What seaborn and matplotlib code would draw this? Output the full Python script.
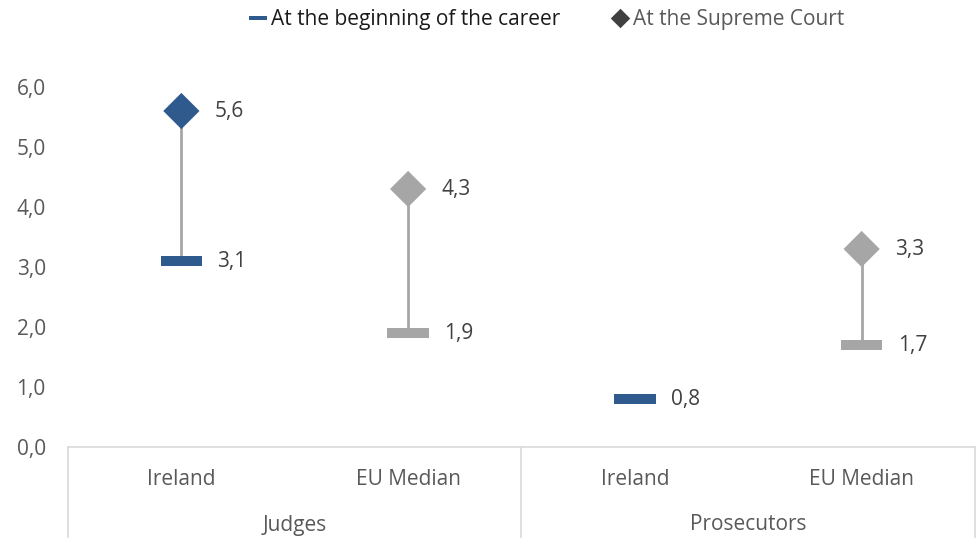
import matplotlib
matplotlib.use("Agg")
import matplotlib.pyplot as plt
import matplotlib.transforms as mtransforms
from matplotlib.lines import Line2D
import seaborn as sns
import pandas as pd

# ---- data ----
groups = ["Judges", "Judges", "Prosecutors", "Prosecutors"]
categories = ["Ireland", "EU Median", "Ireland", "EU Median"]
begin_career = [3.1, 1.9, 0.8, 1.7]
supreme_court = [5.6, 4.3, None, 3.3]
y_ticks = [0, 1, 2, 3, 4, 5, 6]
legend_labels = ["At the beginning of the career", "At the Supreme Court"]

BLUE = "#2F5A8E"
GREY = "#A6A6A6"
TXT = "#595959"
FS = 15

sns.set_theme(style="white")
plt.rcParams["font.family"] = ["Open Sans", "DejaVu Sans"]

df = pd.DataFrame({
    "pos": range(len(categories)),
    "group": groups,
    "cat": categories,
    "begin": begin_career,
    "supreme": supreme_court,
})
df["kind"] = ["Ireland" if c == "Ireland" else "EU" for c in categories]
palette = {"Ireland": BLUE, "EU": GREY}

fig = plt.figure(figsize=(9.79, 5.38), dpi=100)
W, H = 979, 538
ax = fig.add_axes([68 / W, (H - 447) / H, (975 - 68) / W, 360 / H])

dash = [(-1, -0.22), (1, -0.22), (1, 0.22), (-1, 0.22), (-1, -0.22)]
diamond = [(0, 1), (1, 0), (0, -1), (-1, 0), (0, 1)]

# connecting lines
sub = df.dropna(subset=["supreme"])
ax.vlines(sub["pos"], sub["begin"], sub["supreme"], color=GREY, lw=2, zorder=1)

sns.scatterplot(data=df, x="pos", y="begin", hue="kind", palette=palette,
                marker=dash, s=900, linewidth=0, legend=False, ax=ax, zorder=3,
                clip_on=False)
sns.scatterplot(data=sub, x="pos", y="supreme", hue="kind", palette=palette,
                marker=diamond, s=680, linewidth=0, legend=False, ax=ax, zorder=3,
                clip_on=False)

def fmt(v):
    return f"{v:.1f}".replace(".", ",")

for _, r in df.iterrows():
    ax.annotate(fmt(r["begin"]), (r["pos"], r["begin"]), xytext=(26, 0),
                textcoords="offset points", va="center", ha="left",
                fontsize=FS, color="#404040")
    if pd.notna(r["supreme"]):
        ax.annotate(fmt(r["supreme"]), (r["pos"], r["supreme"]), xytext=(24, 0),
                    textcoords="offset points", va="center", ha="left",
                    fontsize=FS, color="#404040")

ax.set_xlim(-0.5, len(categories) - 0.5)
ax.set_ylim(0, 6)
ax.set_yticks(y_ticks)
ax.set_yticklabels([fmt(v) for v in y_ticks])
ax.set_xticks(df["pos"])
ax.set_xticklabels(categories)
ax.tick_params(axis="y", length=0, pad=16, labelsize=FS, labelcolor=TXT)
ax.tick_params(axis="x", length=0, pad=16, labelsize=FS, labelcolor=TXT)
ax.set_xlabel("")
ax.set_ylabel("")
for s in ["top", "right", "left"]:
    ax.spines[s].set_visible(False)
ax.spines["bottom"].set_color("#D9D9D9")
ax.spines["bottom"].set_linewidth(1.2)

# group separators and labels
trans = mtransforms.blended_transform_factory(ax.transData, ax.transAxes)
ybot = -91 / 360
for xs in [-0.5, 1.5, 3.5]:
    ax.plot([xs, xs], [0, ybot], color="#D9D9D9", lw=1.2, transform=trans,
            clip_on=False)
group_names = list(dict.fromkeys(groups))
for gi, g in enumerate(group_names):
    xs = df.loc[df["group"] == g, "pos"].mean()
    ax.text(xs, -78 / 360, g, transform=trans, ha="center", va="center",
            fontsize=FS, color=TXT)

handles = [
    Line2D([], [], marker=dash, color=BLUE, ls="none", markersize=13, mew=0),
    Line2D([], [], marker=diamond, color="#404040", ls="none", markersize=14, mew=0),
]
leg = fig.legend(handles, legend_labels, loc="center", bbox_to_anchor=(548 / W, 1 - 20 / H),
                 ncol=2, frameon=False, fontsize=FS, handlelength=0.6,
                 handletextpad=0.3, columnspacing=2.6)
leg.get_texts()[0].set_color("#1a1a1a")
leg.get_texts()[1].set_color(TXT)

fig.savefig("out.png", dpi=100)
